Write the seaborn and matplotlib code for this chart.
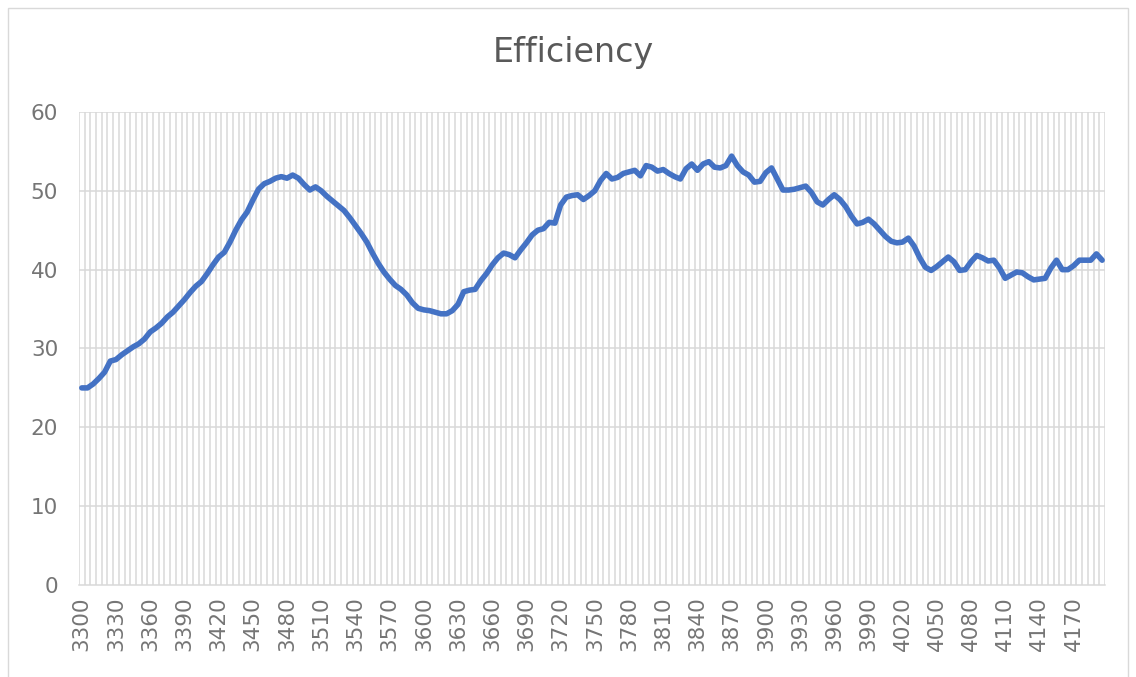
import matplotlib
matplotlib.use('Agg')
import matplotlib.pyplot as plt
import numpy as np
import pandas as pd
import seaborn as sns

# Data (categories step 5)
categories = list(range(3300, 4200, 5))
efficiency = [
    25.0, 25.0, 25.5, 26.2, 27.0, 28.4, 28.6, 29.2, 29.7, 30.2,
    30.6, 31.2, 32.1, 32.6, 33.2, 34.0, 34.6, 35.4, 36.2, 37.1,
    37.9, 38.5, 39.5, 40.6, 41.6, 42.2, 43.5, 45.0, 46.3, 47.3,
    48.8, 50.2, 50.9, 51.2, 51.6, 51.8, 51.6, 52.0, 51.6, 50.8,
    50.1, 50.5, 50.0, 49.3, 48.7, 48.1, 47.5, 46.6, 45.6, 44.6,
    43.5, 42.1, 40.8, 39.7, 38.8, 38.0, 37.5, 36.8, 35.8, 35.1,
    34.9, 34.8, 34.6, 34.4, 34.4, 34.8, 35.6, 37.2, 37.4, 37.5,
    38.6, 39.5, 40.6, 41.5, 42.1, 41.9, 41.5, 42.5, 43.4, 44.4,
    45.0, 45.2, 46.0, 45.9, 48.2, 49.2, 49.4, 49.5, 48.9, 49.4,
    50.0, 51.3, 52.2, 51.5, 51.7, 52.2, 52.4, 52.6, 51.9, 53.2,
    53.0, 52.5, 52.7, 52.2, 51.8, 51.5, 52.8, 53.4, 52.6, 53.4,
    53.7, 53.0, 52.9, 53.2, 54.4, 53.2, 52.4, 52.0, 51.1, 51.2,
    52.3, 52.9, 51.5, 50.1, 50.1, 50.2, 50.4, 50.6, 49.8, 48.6,
    48.2, 48.9, 49.5, 48.9, 48.0, 46.8, 45.8, 46.0, 46.4, 45.8,
    45.0, 44.2, 43.6, 43.4, 43.5, 44.0, 43.0, 41.5, 40.3, 39.9,
    40.4, 41.0, 41.6, 41.0, 39.9, 40.0, 41.0, 41.8, 41.5, 41.1,
    41.2, 40.2, 38.9, 39.3, 39.7, 39.6, 39.1, 38.7, 38.8, 38.9,
    40.2, 41.2, 40.0, 40.0, 40.5, 41.2, 41.2, 41.2, 42.0, 41.2,
]
tick_labels = [str(c) for c in range(3300, 4200, 30)]

df = pd.DataFrame({'cat': categories, 'value': efficiency})

sns.set_style('white')
plt.rcParams['font.family'] = ['DejaVu Sans']

fig = plt.figure(figsize=(11.36, 6.77), dpi=100)
ax = fig.add_axes([0.0695, 0.1359, 0.9032, 0.6987])

# Excel style category gridlines (between categories)
for b in np.arange(3297.5, 4200, 5):
    ax.axvline(b, color='#d9d9d9', lw=1.1, zorder=0)
for h in range(10, 61, 10):
    ax.axhline(h, color='#d9d9d9', lw=1.1, zorder=0)

sns.lineplot(data=df, x='cat', y='value', ax=ax, color='#4472C4', lw=4.0,
             solid_capstyle='round', solid_joinstyle='round', zorder=3)

ax.set_xlim(3297.5, 4197.5)
ax.set_ylim(0, 60)
ax.set_xticks(range(3300, 4200, 30))
ax.set_xticklabels(tick_labels, rotation=90)
ax.set_yticks(range(0, 61, 10))
ax.tick_params(axis='both', length=0, labelsize=15.5, labelcolor='#757575')
ax.tick_params(axis='x', pad=8)
ax.tick_params(axis='y', pad=15)
ax.set_xlabel('')
ax.set_ylabel('')

for s in ['top', 'left', 'right']:
    ax.spines[s].set_visible(False)
ax.spines['bottom'].set_color('#d9d9d9')
ax.spines['bottom'].set_linewidth(1.1)

fig.text(0.505, 0.923, 'Efficiency', ha='center', va='center',
         fontsize=24, color='#595959')

# chart area border
fig.patches.append(plt.Rectangle((0.007, -0.01), 0.986, 0.998, transform=fig.transFigure,
                                 fill=False, edgecolor='#d9d9d9', lw=1.0))

fig.savefig('out.png', dpi=100)
